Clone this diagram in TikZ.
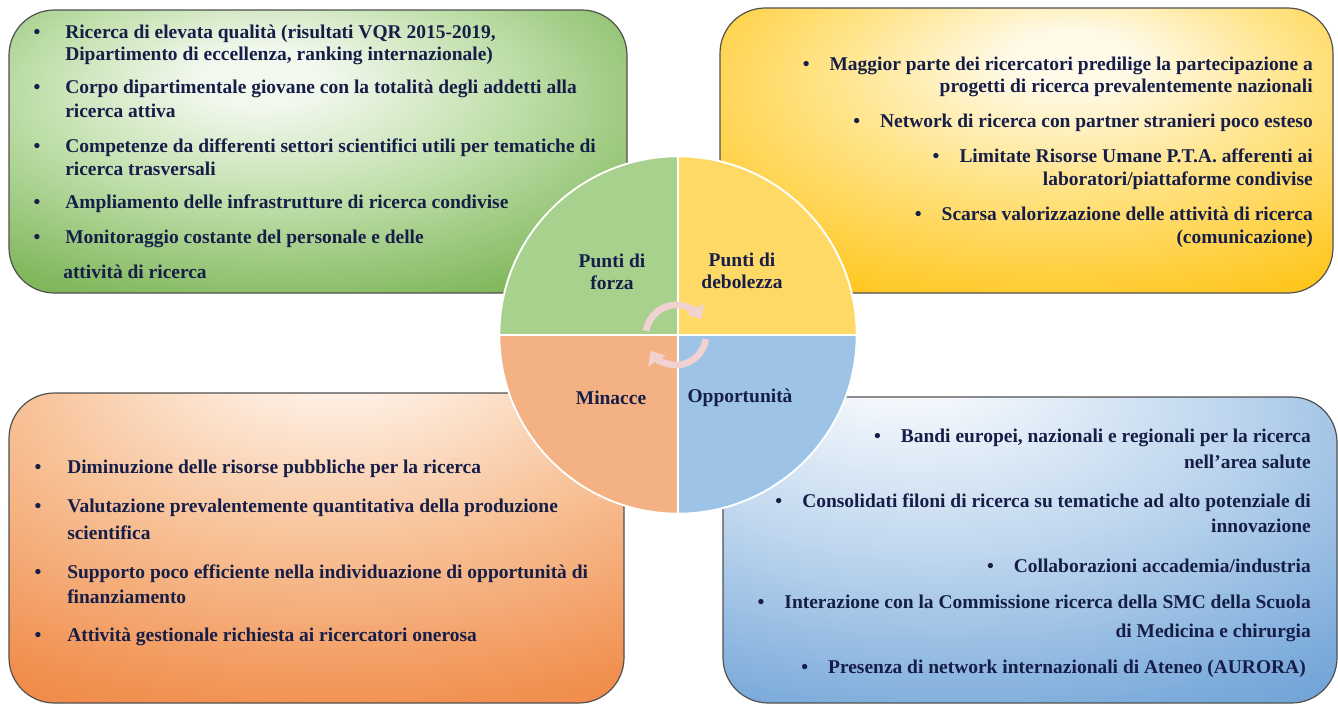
\documentclass[tikz,border=0pt]{standalone}
\usepackage{fontspec}
\setmainfont{Liberation Serif}
\usetikzlibrary{arrows.meta, calc}
\definecolor{navytext}{RGB}{22,30,72}
\definecolor{boxline}{RGB}{80,80,80}
\definecolor{qgreen}{RGB}{169,209,142}
\definecolor{qyellow}{RGB}{255,217,102}
\definecolor{qorange}{RGB}{244,177,131}
\definecolor{qblue}{RGB}{157,195,230}
\definecolor{cycpink}{RGB}{242,210,208}
% glow colours of the four boxes
\definecolor{gA}{RGB}{242,248,238}\definecolor{gB}{RGB}{190,222,168}\definecolor{gC}{RGB}{130,184,94}\definecolor{gD}{RGB}{104,162,64}
\definecolor{yA}{RGB}{255,250,232}\definecolor{yB}{RGB}{255,226,130}\definecolor{yC}{RGB}{255,198,30}\definecolor{yD}{RGB}{250,186,0}
\definecolor{oA}{RGB}{255,247,240}\definecolor{oB}{RGB}{248,196,155}\definecolor{oC}{RGB}{241,144,80}\definecolor{oD}{RGB}{235,118,40}
\definecolor{bA}{RGB}{245,249,253}\definecolor{bB}{RGB}{190,214,238}\definecolor{bC}{RGB}{122,170,218}\definecolor{bD}{RGB}{80,140,200}
\pgfdeclareradialshading{greenglow}{\pgfpoint{-5bp}{14bp}}{color(0bp)=(gA); color(5bp)=(gA); color(20bp)=(gB); color(36bp)=(gC); color(55bp)=(gD); color(80bp)=(gD)}
\pgfdeclareradialshading{yellowglow}{\pgfpoint{4bp}{17bp}}{color(0bp)=(yA); color(5bp)=(yA); color(20bp)=(yB); color(38bp)=(yC); color(55bp)=(yD); color(80bp)=(yD)}
\pgfdeclareradialshading{orangeglow}{\pgfpoint{2bp}{36bp}}{color(0bp)=(oA); color(5bp)=(oA); color(24bp)=(oB); color(44bp)=(oC); color(62bp)=(oD); color(85bp)=(oD)}
\pgfdeclareradialshading{blueglow}{\pgfpoint{-11bp}{32bp}}{color(0bp)=(bA); color(5bp)=(bA); color(24bp)=(bB); color(44bp)=(bC); color(62bp)=(bD); color(85bp)=(bD)}

\begin{document}
\begin{tikzpicture}[x=0.75pt,y=-0.75pt]
    \tikzset{
        swotbox/.style={draw=boxline, line width=0.9pt, rounded corners=34pt},
        txt/.style={font=\fontsize{14.6pt}{17pt}\selectfont\bfseries, text=navytext, inner sep=0pt},
        quad/.style={draw=white, line width=1.4pt},
        cyc/.style={cycpink, line width=5pt, -{Triangle[width=15pt,length=9pt]}}
    }
    \useasboundingbox (0,0) rectangle (1338,704);

    % Boxes
    \shade[swotbox, shading=greenglow] (9,10) rectangle (627,293);
    \shade[swotbox, shading=yellowglow] (720,8) rectangle (1333,293);
    \shade[swotbox, shading=orangeglow] (9,393) rectangle (624,703);
    \shade[swotbox, shading=blueglow] (723,397) rectangle (1337,703);

    % Central circle
    \coordinate (ctr) at (678,335);
    \filldraw[quad, fill=qgreen] (ctr) -- ++(180:134pt) arc[start angle=180, end angle=90, radius=134pt] -- cycle;
    \filldraw[quad, fill=qyellow] (ctr) -- ++(90:134pt) arc[start angle=90, end angle=0, radius=134pt] -- cycle;
    \filldraw[quad, fill=qblue] (ctr) -- ++(0:134pt) arc[start angle=0, end angle=-90, radius=134pt] -- cycle;
    \filldraw[quad, fill=qorange] (ctr) -- ++(-90:134pt) arc[start angle=-90, end angle=-180, radius=134pt] -- cycle;

    \node[txt, align=center] (forza) at (612,272) {Punti di\\forza};
    \node[txt, align=center] (debol) at (742,271) {Punti di\\debolezza};
    \node[txt] (minac) at (611,398) {Minacce};
    \node[txt] (oppor) at (740,398) {Opportunità};

    % Cycle arrows
    \coordinate (cyc) at (676,335);
    \draw[cyc] ($(cyc)+(172:22.5pt)$) arc[start angle=172, end angle=32, radius=22.5pt];
    \draw[cyc] ($(cyc)+(-8:22.5pt)$) arc[start angle=-8, end angle=-148, radius=22.5pt];

    % Punti di forza
    \foreach \n/\y/\t in {1/38/{Ricerca di elevata qualità (risultati VQR 2015-2019,},
        2/60/{Dipartimento di eccellenza, ranking internazionale)},
        3/93/{Corpo dipartimentale giovane con la totalità degli addetti alla},
        4/117/{ricerca attiva},
        5/152/{Competenze da differenti settori scientifici utili per tematiche di},
        6/175/{ricerca trasversali},
        7/208/{Ampliamento delle infrastrutture di ricerca condivise},
        8/243/{Monitoraggio costante del personale e delle}}
        \node[txt, anchor=base west] (g\n) at (65,\y) {\t};
    \node[txt, anchor=base west] (g9) at (63,278) {attività di ricerca};
    \foreach \y [count=\k] in {38,93,152,208,243}
        \node[txt, anchor=base] (gb\k) at (37,\y) {\textbullet};

    % Punti di debolezza
    \foreach \n/\y/\t in {1/70/{\textbullet\hspace{15pt}Maggior parte dei ricercatori predilige la partecipazione a},
        2/92/{progetti di ricerca prevalentemente nazionali},
        3/127/{\textbullet\hspace{15pt}Network di ricerca con partner stranieri poco esteso},
        4/162/{\textbullet\hspace{15pt}Limitate Risorse Umane P.T.A. afferenti ai},
        5/185/{laboratori/piattaforme condivise},
        6/220/{\textbullet\hspace{15pt}Scarsa valorizzazione delle attività di ricerca},
        7/243/{(comunicazione)}}
        \node[txt, anchor=base east] (y\n) at (1313,\y) {\t};

    % Minacce
    \foreach \n/\y/\t in {1/473/{Diminuzione delle risorse pubbliche per la ricerca},
        2/512/{Valutazione prevalentemente quantitativa della produzione},
        3/539/{scientifica},
        4/578/{Supporto poco efficiente nella individuazione di opportunità di},
        5/603/{finanziamento},
        6/641/{Attività gestionale richiesta ai ricercatori onerosa}}
        \node[txt, anchor=base west] (o\n) at (67,\y) {\t};
    \foreach \y [count=\k] in {473,512,578,641}
        \node[txt, anchor=base] (ob\k) at (38,\y) {\textbullet};

    % Opportunita
    \foreach \n/\y/\t in {1/442/{\textbullet\hspace{15pt}Bandi europei, nazionali e regionali per la ricerca},
        2/468/{nell’area salute},
        3/507/{\textbullet\hspace{15pt}Consolidati filoni di ricerca su tematiche ad alto potenziale di},
        4/532/{innovazione},
        5/572/{\textbullet\hspace{15pt}Collaborazioni accademia/industria},
        6/608/{\textbullet\hspace{15pt}Interazione con la Commissione ricerca della SMC della Scuola},
        7/637/{di Medicina e chirurgia}}
        \node[txt, anchor=base east] (b\n) at (1311,\y) {\t};
    \node[txt, anchor=base east] (b8) at (1306,673) {\textbullet\hspace{15pt}Presenza di network internazionali di Ateneo (AURORA)};
\end{tikzpicture}
\end{document}
